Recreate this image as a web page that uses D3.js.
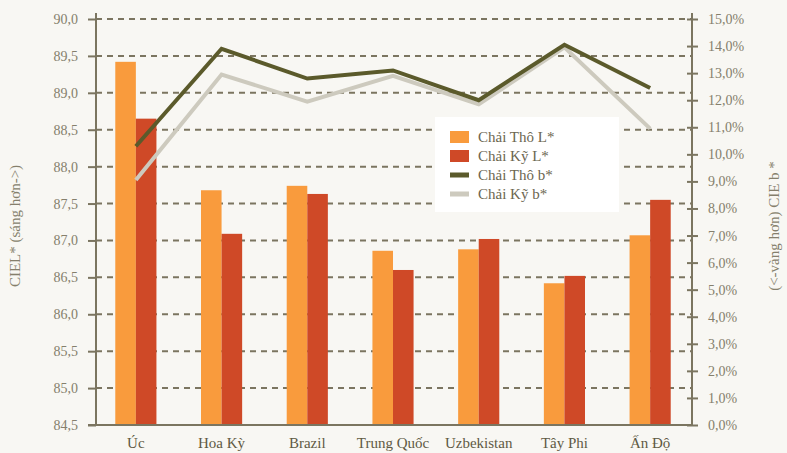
<!DOCTYPE html>
<html>
<head>
<meta charset="utf-8">
<script src="https://cdn.jsdelivr.net/npm/d3@7"></script>
<style>
  body { margin: 0; background: #f8f7f3; }
  svg, svg text { font-family: "Liberation Serif", "DejaVu Serif", serif !important; }
  svg { display: block; }
</style>
</head>
<body>
<svg id="chart" width="787" height="453"></svg>
<script>
const categories = ["Úc", "Hoa Kỳ", "Brazil", "Trung Quốc", "Uzbekistan", "Tây Phi", "Ấn Độ"];
const thoL = [89.42, 87.68, 87.74, 86.86, 86.88, 86.42, 87.07];
const kyL = [88.65, 87.09, 87.63, 86.60, 87.02, 86.52, 87.55];
const thoB = [10.3, 13.9, 12.8, 13.1, 12.0, 14.05, 12.45];
const kyB = [9.05, 12.95, 11.95, 12.9, 11.85, 13.95, 10.95];
const leftTicks = d3.range(84.5, 90.01, 0.5);
const rightTicks = d3.range(0, 15.01, 1);
const seriesNames = ["Chải Thô L*", "Chải Kỹ L*", "Chải Thô b*", "Chải Kỹ b*"];

const colors = { thoL: "#f99b3d", kyL: "#cf4927", thoB: "#5b5a2b", kyB: "#cdcabe" };
const axisColor = "#7b7560";
const textColor = "#857f6c";

const svg = d3.select("#chart");
const plotLeft = 96, plotRight = 692, plotTop = 19, plotBottom = 425;

const x = d3.scaleBand().domain(categories).range([93, 693]).paddingInner(0.52).paddingOuter(0.26);
const yL = d3.scaleLinear().domain([84.5, 90]).range([plotBottom, plotTop]);
const yR = d3.scaleLinear().domain([0, 15]).range([plotBottom, plotTop]);
const barW = x.bandwidth() / 2;

// gridlines
svg.append("g").selectAll("line").data(leftTicks.slice(1)).join("line")
  .attr("x1", plotLeft).attr("x2", plotRight)
  .attr("y1", d => yL(d)).attr("y2", d => yL(d))
  .attr("stroke", axisColor).attr("stroke-width", 2).attr("stroke-dasharray", "6,5");

// bars
const bars = svg.append("g");
bars.selectAll("rect.tho").data(thoL).join("rect").attr("class", "tho")
  .attr("x", (d, i) => x(categories[i]))
  .attr("y", d => yL(d)).attr("width", barW).attr("height", d => plotBottom - yL(d))
  .attr("fill", colors.thoL);
bars.selectAll("rect.ky").data(kyL).join("rect").attr("class", "ky")
  .attr("x", (d, i) => x(categories[i]) + barW)
  .attr("y", d => yL(d)).attr("width", barW).attr("height", d => plotBottom - yL(d))
  .attr("fill", colors.kyL);

// lines
const cx = c => x(c) + x.bandwidth() / 2;
const line = d3.line().x((d, i) => cx(categories[i])).y(d => yR(d));
svg.append("path").datum(kyB).attr("d", line).attr("fill", "none")
  .attr("stroke", colors.kyB).attr("stroke-width", 4);
svg.append("path").datum(thoB).attr("d", line).attr("fill", "none")
  .attr("stroke", colors.thoB).attr("stroke-width", 4);

// left axis
const gL = svg.append("g").attr("transform", `translate(${plotLeft},0)`)
  .call(d3.axisLeft(yL).tickValues(leftTicks).tickSize(8).tickPadding(10)
    .tickFormat(d => d3.format(".1f")(d).replace(".", ",")));
gL.attr("font-family", null);
gL.select(".domain").attr("stroke", axisColor).attr("stroke-width", 2).attr("d", `M0,${plotTop - 6}V${plotBottom}`);
gL.selectAll(".tick line").attr("stroke", axisColor).attr("stroke-width", 2);
gL.selectAll(".tick text").attr("fill", textColor).attr("font-size", 14);

// right axis
const gR = svg.append("g").attr("transform", `translate(${plotRight},0)`)
  .call(d3.axisRight(yR).tickValues(rightTicks).tickSize(6).tickPadding(10)
    .tickFormat(d => d3.format(".1f")(d).replace(".", ",") + "%"));
gR.attr("font-family", null);
gR.select(".domain").attr("stroke", axisColor).attr("stroke-width", 2).attr("d", `M0,${plotTop - 6}V${plotBottom}`);
gR.selectAll(".tick line").attr("stroke", axisColor).attr("stroke-width", 2).attr("x1", -5);
gR.selectAll(".tick text").attr("fill", textColor).attr("font-size", 14);

// bottom axis
svg.append("line").attr("x1", plotLeft - 8).attr("x2", plotRight + 1).attr("y1", plotBottom).attr("y2", plotBottom)
  .attr("stroke", axisColor).attr("stroke-width", 2);
svg.append("g").selectAll("text").data(categories).join("text")
  .attr("x", d => cx(d)).attr("y", 448).attr("text-anchor", "middle")
  .attr("fill", "#5f5a44").attr("font-size", 15).text(d => d);

// axis titles
svg.append("text").attr("transform", "translate(20,226) rotate(-90)")
  .attr("text-anchor", "middle").attr("fill", textColor).attr("font-size", 15)
  .text("CIEL* (sáng hơn->)");
svg.append("text").attr("transform", "translate(779,226) rotate(-90)")
  .attr("text-anchor", "middle").attr("fill", textColor).attr("font-size", 15)
  .text("(<-vàng hơn) CIE b *");

// legend
const lg = svg.append("g").attr("transform", "translate(435,117)");
lg.append("rect").attr("width", 184).attr("height", 95).attr("fill", "#ffffff");
const swatch = [
  { c: colors.thoL, h: 12 }, { c: colors.kyL, h: 12 },
  { c: colors.thoB, h: 5 }, { c: colors.kyB, h: 5 }
];
seriesNames.forEach((name, i) => {
  const yc = 20 + i * 19;
  lg.append("rect").attr("x", 15).attr("y", yc - swatch[i].h / 2).attr("width", 19)
    .attr("height", swatch[i].h).attr("fill", swatch[i].c);
  lg.append("text").attr("x", 43).attr("y", yc + 5).attr("fill", "#6b6650")
    .attr("font-size", 15).text(name);
});
</script>
</body>
</html>
